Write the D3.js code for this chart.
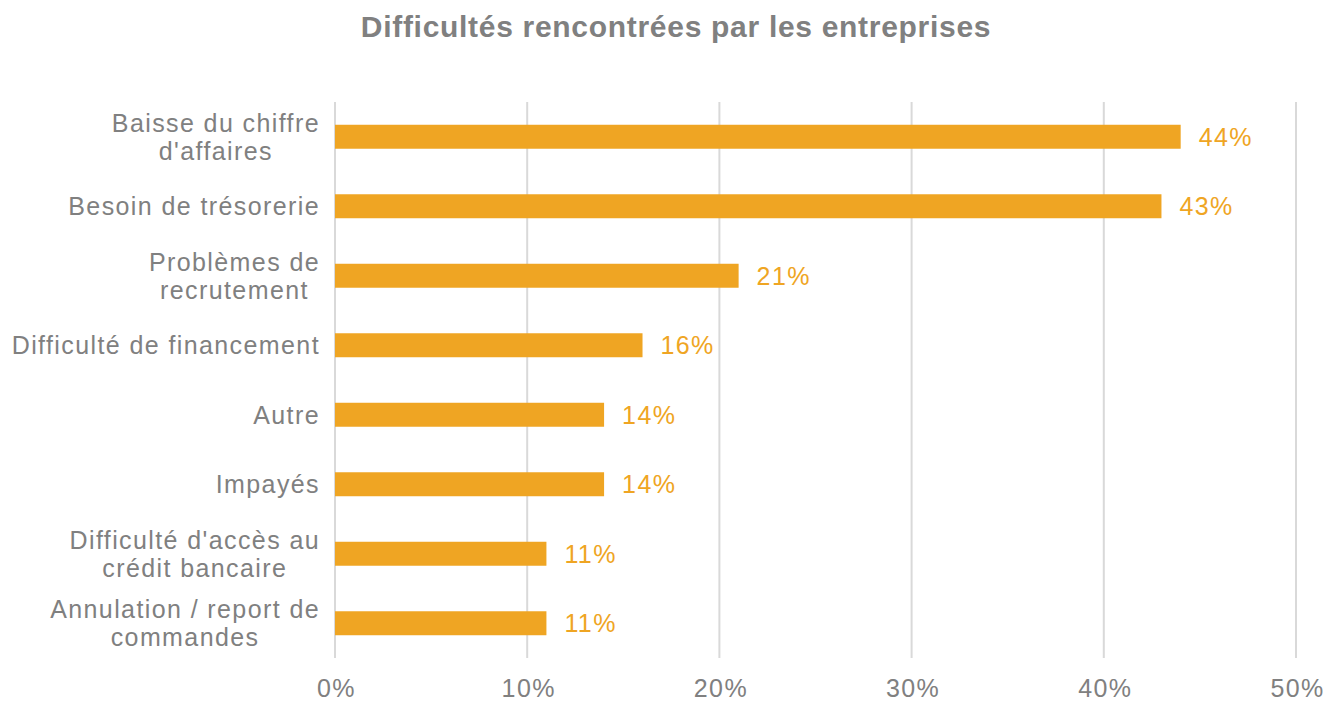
<!DOCTYPE html>
<html>
<head>
<meta charset="utf-8">
<script src="https://cdn.jsdelivr.net/npm/d3@7"></script>
<style>
  body { margin: 0; background: #fff; }
  text { font-family: "Liberation Sans", Arial, sans-serif; letter-spacing: 1.4px; }
  text.title { letter-spacing: 0.7px; }
</style>
</head>
<body>
<svg id="chart" width="1330" height="703"></svg>
<script>
// data
let categories = [
  ["Baisse du chiffre", "d'affaires"],
  ["Besoin de trésorerie"],
  ["Problèmes de", "recrutement"],
  ["Difficulté de financement"],
  ["Autre"],
  ["Impayés"],
  ["Difficulté d'accès au", "crédit bancaire"],
  ["Annulation / report de", "commandes"]
];
let values = [44, 43, 21, 16, 14, 14, 11, 11];
let ticks = [0, 10, 20, 30, 40, 50];

let svg = d3.select("#chart");
let orange = "#EFA523";
let grey = "#808080";

let x = d3.scaleLinear().domain([0, 50]).range([335, 1296]);
let y = d3.scaleBand()
  .domain(d3.range(values.length))
  .range([102, 658])
  .paddingInner(0.655)
  .paddingOuter(0.3275);

// title
svg.append("text")
  .attr("class", "title")
  .attr("x", 676).attr("y", 37)
  .attr("text-anchor", "middle")
  .attr("font-size", 30).attr("font-weight", "bold")
  .attr("fill", grey)
  .text("Difficultés rencontrées par les entreprises");

// gridlines
svg.append("g").selectAll("line")
  .data(ticks)
  .enter().append("line")
  .attr("x1", d => x(d)).attr("x2", d => x(d))
  .attr("y1", 102).attr("y2", 658)
  .attr("stroke", "#d9d9d9").attr("stroke-width", 2);

// x axis labels
let xAxis = d3.axisBottom(x).tickValues(ticks).tickFormat(d => d + "%").tickSize(0);
let gx = svg.append("g").attr("transform", "translate(1, 676)").call(xAxis);
gx.select(".domain").remove();
gx.selectAll("text")
  .attr("font-size", 25).attr("fill", grey)
  .attr("font-family", "Liberation Sans, Arial, sans-serif");

// bars
svg.append("g").selectAll("rect")
  .data(values)
  .enter().append("rect")
  .attr("x", x(0))
  .attr("y", (d, i) => y(i))
  .attr("width", d => x(d) - x(0))
  .attr("height", y.bandwidth())
  .attr("fill", orange);

// value labels
svg.append("g").selectAll("text")
  .data(values)
  .enter().append("text")
  .attr("x", d => x(d) + 18)
  .attr("y", (d, i) => y(i) + y.bandwidth() / 2 + 9)
  .attr("font-size", 25).attr("fill", orange)
  .text(d => d + "%");

// category labels
let lab = svg.append("g").selectAll("text")
  .data(categories)
  .enter().append("text")
  .attr("text-anchor", "middle")
  .attr("font-size", 25).attr("fill", grey)
  .attr("y", (d, i) => y(i) + y.bandwidth() / 2 + 9 - (d.length - 1) * 14);

lab.each(function(d) {
  let t = d3.select(this);
  // measure widest line so the block is right-aligned, lines centred in it
  let tmp = svg.append("text").attr("font-size", 25);
  let w = d3.max(d, s => { tmp.text(s); return tmp.node().getComputedTextLength(); });
  tmp.remove();
  let cx = 320 - w / 2;
  d.forEach((s, j) => {
    t.append("tspan").attr("x", cx).attr("dy", j === 0 ? 0 : 28).text(s);
  });
});
</script>
</body>
</html>
